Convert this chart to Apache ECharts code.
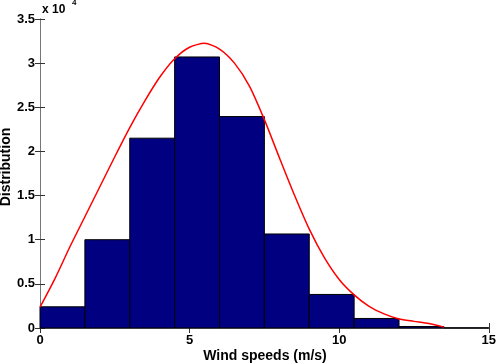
<!DOCTYPE html>
<html>
<head>
<meta charset="utf-8">
<script src="https://cdn.jsdelivr.net/npm/echarts@6/dist/echarts.min.js"></script>
<style>
html,body{margin:0;padding:0;background:#fff;}
#c{width:499px;height:364px;}
</style>
</head>
<body>
<div id="c"></div>
<script>
// Histogram bins (wind speed, m/s)
const binEdges = [0, 1.5, 3, 4.5, 6, 7.5, 9, 10.5, 12, 13.5, 15];
const binCounts = [2400, 10000, 21500, 30700, 23950, 10650, 3800, 1080, 170, 20];
// Fitted distribution curve
const curveX = [0, 0.5, 1.0, 1.5, 2.0, 2.5, 3.0, 3.5, 4.0, 4.5, 5.0, 5.5, 6.0, 6.5, 7.0, 7.5, 8.0, 8.5, 9.0, 9.5, 10.0, 10.5, 11.0, 11.5, 12.0, 12.5, 13.0, 13.5];
const curveY = [2360, 5600, 9200, 12600, 16000, 19400, 22700, 25700, 28400, 30500, 31800, 32250, 31600, 30000, 27400, 23600, 19300, 15100, 11200, 8000, 5500, 3750, 2450, 1600, 1020, 750, 500, 100];
const xTicks = [0, 5, 10, 15];
const yTickLabels = ['0', '0.5', '1', '1.5', '2', '2.5', '3', '3.5'];

const FONT = 'Liberation Sans, Arial, sans-serif';
const barData = binCounts.map((c, i) => [binEdges[i], binEdges[i + 1], c]);
const lineData = curveX.map((x, i) => [x, curveY[i]]);

const chart = echarts.init(document.getElementById('c'));
const axisLineStyle = { color: '#777', width: 1 };
const baseX = {
  type: 'value', min: 0, max: 15, interval: 5,
  axisLine: { show: true, lineStyle: axisLineStyle },
  axisTick: { show: true, inside: true, length: 5, lineStyle: { color: '#333' } },
  splitLine: { show: false }
};
const baseY = {
  type: 'value', min: 0, max: 35000, interval: 5000,
  axisLine: { show: true, lineStyle: axisLineStyle },
  axisTick: { show: true, inside: true, length: 5, lineStyle: { color: '#333' } },
  splitLine: { show: false }
};
chart.setOption({
  animation: false,
  backgroundColor: '#fff',
  grid: { left: 40, right: 8, top: 19, bottom: 36 },
  xAxis: [
    Object.assign({}, baseX, {
      position: 'bottom',
      axisLabel: { show: true, margin: 6, color: '#000', fontFamily: FONT, fontWeight: 'bold', fontSize: 13,
        formatter: v => xTicks.indexOf(v) >= 0 ? String(v) : '' }
    }),
    Object.assign({}, baseX, { position: 'top', axisLabel: { show: false } })
  ],
  yAxis: [
    Object.assign({}, baseY, {
      position: 'left',
      axisLabel: { show: true, margin: 5, color: '#000', fontFamily: FONT, fontWeight: 'bold', fontSize: 13,
        formatter: v => yTickLabels[Math.round(v / 5000)] }
    }),
    Object.assign({}, baseY, { position: 'right', axisLabel: { show: false } })
  ],
  graphic: [
    { type: 'text', left: 42, top: 4, style: { text: 'x 10', font: 'bold 12px ' + FONT, fill: '#000' } },
    { type: 'text', left: 72, top: -1, style: { text: '4', font: 'bold 8px ' + FONT, fill: '#000' } },
    { type: 'text', x: 265, y: 356, style: { text: 'Wind speeds (m/s)', font: 'bold 14px ' + FONT, fill: '#000', align: 'center', verticalAlign: 'middle' } },
    { type: 'text', x: 6, y: 167, rotation: Math.PI / 2, style: { text: 'Distribution', font: 'bold 14px ' + FONT, fill: '#000', align: 'center', verticalAlign: 'middle' } }
  ],
  series: [
    {
      type: 'custom',
      xAxisIndex: 0, yAxisIndex: 0,
      data: barData,
      renderItem: function (params, api) {
        const p0 = api.coord([api.value(0), api.value(2)]);
        const p1 = api.coord([api.value(1), 0]);
        return {
          type: 'rect',
          shape: { x: p0[0], y: p0[1], width: p1[0] - p0[0], height: p1[1] - p0[1] },
          style: { fill: '#000080', stroke: '#000', lineWidth: 1 }
        };
      },
      z: 2
    },
    {
      type: 'line',
      xAxisIndex: 0, yAxisIndex: 0,
      data: lineData,
      smooth: 0.25,
      showSymbol: false,
      lineStyle: { color: '#ff0000', width: 1.5 },
      z: 3
    }
  ]
});
</script>
</body>
</html>
